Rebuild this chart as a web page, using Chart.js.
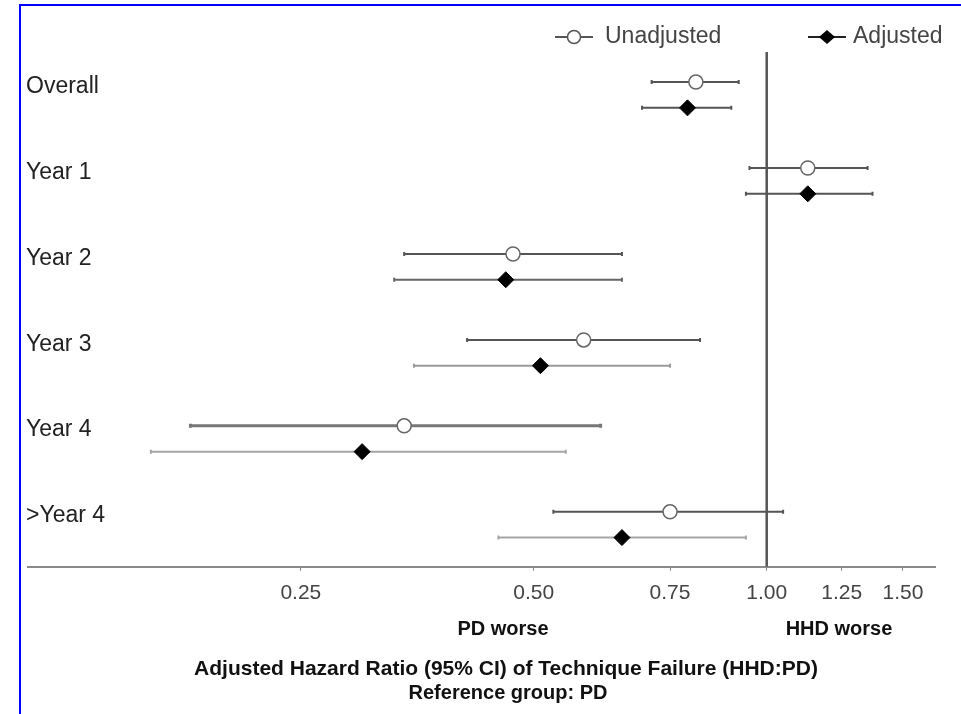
<!DOCTYPE html>
<html>
<head>
<meta charset="utf-8">
<title>Technique failure hazard ratios</title>
<script src="https://cdn.jsdelivr.net/npm/chart.js@4.4.1/dist/chart.umd.min.js"></script>
<style>
  html, body { margin: 0; padding: 0; background: #fff; }
  #wrap { position: relative; width: 961px; height: 714px; overflow: hidden; }
  #frame { position: absolute; left: 19px; top: 4px; right: -10px; bottom: -10px;
           border-top: 2px solid #0000ff; border-left: 2px solid #0000ff; }
  #hr { position: absolute; left: 0; top: 0; }
  .note { position: absolute; transform: translate(-50%, -50%); white-space: nowrap;
          font-family: "Liberation Sans", Arial, sans-serif; font-weight: bold; color: #111; }
</style>
</head>
<body>
<div id="wrap">
  <div id="frame"></div>
  <canvas id="hr" width="961" height="714"></canvas>
  <div class="note" style="left:503px; top:628px; font-size:20px;">PD worse</div>
  <div class="note" style="left:839px; top:628px; font-size:20px;">HHD worse</div>
  <div class="note" style="left:506px; top:668px; font-size:21px;">Adjusted Hazard Ratio (95% CI) of Technique Failure (HHD:PD)</div>
  <div class="note" style="left:508px; top:692px; font-size:20px;">Reference group: PD</div>
</div>
<script>
/* ── data ─────────────────────────────────────────────────────────── */
var ROWS = ["Overall", "Year 1", "Year 2", "Year 3", "Year 4", ">Year 4"];
var UNADJ_HR = [0.81, 1.13, 0.47, 0.58, 0.34, 0.75];
var UNADJ_LO = [0.71, 0.95, 0.34, 0.41, 0.18, 0.53];
var UNADJ_HI = [0.92, 1.35, 0.65, 0.82, 0.61, 1.05];
var ADJ_HR = [0.79, 1.13, 0.46, 0.51, 0.30, 0.65];
var ADJ_LO = [0.69, 0.94, 0.33, 0.35, 0.16, 0.45];
var ADJ_HI = [0.90, 1.37, 0.65, 0.75, 0.55, 0.94];
var X_TICKS = [0.25, 0.5, 0.75, 1, 1.25, 1.5];
var REF_HR = 1;

(function () {
  "use strict";

  var ADJ_OFFSET = 0.3;          // adjusted row sits a bit below unadjusted
  var Y_MIN = -0.35, Y_MAX = 5.64;
  var FONT = '"Liberation Sans", Arial, sans-serif';
  var UNADJ_LINE = ["#555", "#555", "#555", "#555", "#777", "#555"];
  var ADJ_LINE = ["#555", "#555", "#666", "#9a9a9a", "#a5a5a5", "#a5a5a5"];

  Chart.defaults.font.family = FONT;

  var unadjPts = ROWS.map(function (r, i) { return { x: UNADJ_HR[i], y: i }; });
  var adjPts = ROWS.map(function (r, i) { return { x: ADJ_HR[i], y: i + ADJ_OFFSET }; });

  /* CI whiskers, drawn under the markers */
  var ciPlugin = {
    id: "ciBars",
    beforeDatasetsDraw: function (chart) {
      var ctx = chart.ctx, xs = chart.scales.x, ys = chart.scales.y;
      function bar(lo, hi, yv, color, w) {
        var x1 = xs.getPixelForValue(lo), x2 = xs.getPixelForValue(hi), y = ys.getPixelForValue(yv);
        ctx.save();
        ctx.strokeStyle = color;
        ctx.lineWidth = w;
        ctx.beginPath();
        ctx.moveTo(x1, y); ctx.lineTo(x2, y);
        ctx.moveTo(x1, y - 2); ctx.lineTo(x1, y + 2);
        ctx.moveTo(x2, y - 2); ctx.lineTo(x2, y + 2);
        ctx.stroke();
        ctx.restore();
      }
      ROWS.forEach(function (r, i) {
        bar(UNADJ_LO[i], UNADJ_HI[i], i, UNADJ_LINE[i], i === 4 ? 3 : 2);
        bar(ADJ_LO[i], ADJ_HI[i], i + ADJ_OFFSET, ADJ_LINE[i], 2);
      });
    }
  };

  /* legend: line-through-marker icons like the original */
  function legendIcon(ctx, x0, y, kind) {
    ctx.save();
    ctx.strokeStyle = kind === "circle" ? "#555" : "#222";
    ctx.lineWidth = 2;
    ctx.beginPath(); ctx.moveTo(x0, y); ctx.lineTo(x0 + 38, y); ctx.stroke();
    var cx = x0 + 19;
    ctx.beginPath();
    if (kind === "circle") {
      ctx.arc(cx, y, 6.5, 0, Math.PI * 2);
      ctx.fillStyle = "#fff"; ctx.fill();
      ctx.lineWidth = 1.5; ctx.stroke();
    } else {
      ctx.moveTo(cx - 8, y); ctx.lineTo(cx, y - 7); ctx.lineTo(cx + 8, y); ctx.lineTo(cx, y + 7);
      ctx.closePath();
      ctx.fillStyle = "#000"; ctx.fill();
    }
    ctx.restore();
  }

  var legendPlugin = {
    id: "hrLegend",
    afterDraw: function (chart) {
      var ctx = chart.ctx;
      legendIcon(ctx, 555, 37, "circle");
      legendIcon(ctx, 808, 37, "diamond");
      ctx.save();
      ctx.font = "23px " + FONT;
      ctx.fillStyle = "#444";
      ctx.textBaseline = "middle";
      ctx.fillText("Unadjusted", 605, 37);
      ctx.fillText("Adjusted", 853, 37);
      ctx.restore();
    }
  };

  new Chart(document.getElementById("hr").getContext("2d"), {
    type: "scatter",
    data: {
      datasets: [
        {
          type: "line", label: "ref", data: [{ x: REF_HR, y: Y_MIN }, { x: REF_HR, y: Y_MAX }],
          borderColor: "#555", borderWidth: 2.5, pointRadius: 0, fill: false
        },
        {
          label: "Unadjusted", data: unadjPts, pointStyle: "circle", pointRadius: 7,
          pointBackgroundColor: "#fff", pointBorderColor: "#666", pointBorderWidth: 1.5
        },
        {
          label: "Adjusted", data: adjPts, pointStyle: "rectRot", pointRadius: 8,
          pointBackgroundColor: "#000", pointBorderColor: "#000", pointBorderWidth: 1
        }
      ]
    },
    options: {
      responsive: false,
      animation: false,
      events: [],
      layout: { padding: { left: 24, right: 26, top: 52, bottom: 98 } },
      plugins: { legend: { display: false }, tooltip: { enabled: false } },
      scales: {
        x: {
          type: "logarithmic",
          min: 0.111, max: 1.65,
          afterBuildTicks: function (axis) {
            axis.ticks = X_TICKS.map(function (v) { return { value: v }; });
          },
          grid: { drawOnChartArea: false, drawTicks: true, tickLength: 4, color: "#888" },
          border: { color: "#8a8a8a", width: 2 },
          ticks: {
            autoSkip: false, maxRotation: 0, padding: 10, color: "#444",
            font: { size: 21 },
            callback: function (v) { return Number(v).toFixed(2); }
          }
        },
        y: {
          type: "linear", reverse: true, min: Y_MIN, max: Y_MAX,
          afterBuildTicks: function (axis) {
            axis.ticks = ROWS.map(function (r, i) { return { value: i + 0.05 }; });
          },
          grid: { display: false },
          border: { display: false },
          ticks: {
            mirror: true, padding: -2, color: "#222",
            font: { size: 23 },
            callback: function (v) { return ROWS[Math.round(v)]; }
          }
        }
      }
    },
    plugins: [ciPlugin, legendPlugin]
  });
})();
</script>
</body>
</html>
